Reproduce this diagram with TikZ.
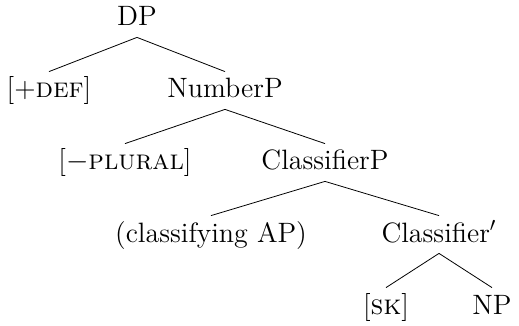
\documentclass[tikz,border=0pt]{standalone}
\begin{document}
\begin{tikzpicture}[
		x=1pt,y=1pt,
		font=\fontsize{14}{16}\selectfont,
		level distance=39.75pt,
		level 1/.style={sibling distance=88pt},
		level 2/.style={sibling distance=100pt},
		level 3/.style={sibling distance=114pt},
		level 4/.style={sibling distance=53pt},
		every node/.style={anchor=base,inner sep=2pt,text height=11pt,text depth=3.5pt},
		edge from parent path={(\tikzparentnode.south) -- (\tikzchildnode.north)}
	]
	\useasboundingbox (-68.5,13) rectangle (191,-150);
	\node (dp) {DP}
	child {node (def) {[+\textsc{def}]}}
	child {
			node (num) {NumberP}
			child {node (pl) {[$-$\textsc{plural}]}}
			child {
					node (cl) {ClassifierP}
					child {node (ap) {(classifying AP)}}
					child {
							node (clbar) {Classifier$'$}
							child {node (sk) {[\textsc{sk}]}}
							child {node (np) {NP}}
						}
				}
		};
\end{tikzpicture}
\end{document}
